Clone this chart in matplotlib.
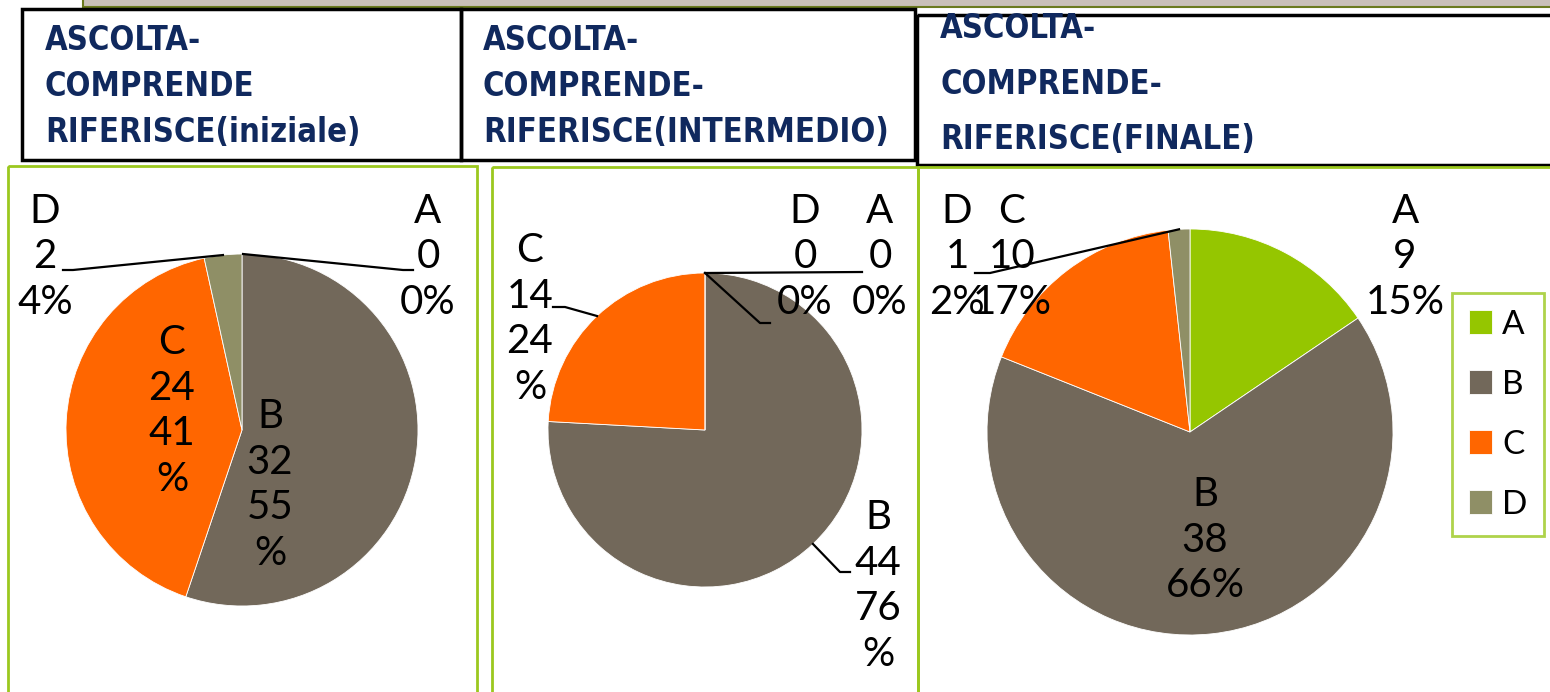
import numpy as np
import matplotlib.pyplot as plt
from matplotlib.patches import Rectangle

# data
categories = ["A", "B", "C", "D"]
titles = [
    "ASCOLTA-\nCOMPRENDE\nRIFERISCE(iniziale)",
    "ASCOLTA-\nCOMPRENDE-\nRIFERISCE(INTERMEDIO)",
    "ASCOLTA-\nCOMPRENDE-\nRIFERISCE(FINALE)",
]
counts_ini = [0, 32, 24, 2]
counts_int = [0, 44, 14, 0]
counts_fin = [9, 38, 10, 1]
pct_ini = ["0%", "55%", "41%", "4%"]
pct_int = ["0%", "76%", "24%", "0%"]
pct_fin = ["15%", "66%", "17%", "2%"]

colors = ["#95C600", "#72685A", "#FF6600", "#8F8F66"]
green = "#9BC81E"
navy = "#10295E"

W, H = 1550, 692
fig = plt.figure(figsize=(W / 100, H / 100), dpi=100)
ax = fig.add_axes([0, 0, 1, 1])

# top strip of the slide
ax.add_patch(Rectangle((83, -5), 1480, 12, facecolor="#C9C0B8", edgecolor="#6B7A1E", lw=1.5))

# title boxes
ax.add_patch(Rectangle((22, 9), 439, 151, fill=False, edgecolor="black", lw=2.5))
ax.add_patch(Rectangle((461, 9), 454, 151, fill=False, edgecolor="black", lw=2.5))
ax.add_patch(Rectangle((917, 15), 650, 150, fill=False, edgecolor="black", lw=2.5))
tfont = dict(color=navy, fontweight="bold", family="DejaVu Sans", fontstretch="condensed",
             ha="left", va="center")
ax.text(45, 86, titles[0], fontsize=23.5, linespacing=1.5, **tfont)
ax.text(483, 86, titles[1], fontsize=23.5, linespacing=1.5, **tfont)
ax.text(940, 84, titles[2], fontsize=23.5, linespacing=1.85, **tfont)

# green chart frames
ax.add_patch(Rectangle((8, 166), 469, 540, fill=False, edgecolor=green, lw=2))
ax.add_patch(Rectangle((492, 167), 426, 540, fill=False, edgecolor=green, lw=2))
ax.add_patch(Rectangle((918, 167), 650, 540, fill=False, edgecolor=green, lw=2))

# pies: centre, radius, label block centres, leader elbows
pies = [
    dict(counts=counts_ini, pct=pct_ini, c=(242, 430), r=176,
         pos={"A": (428, 257), "B": (270, 485), "C": (172, 411), "D": (45, 257)},
         wrap={"B", "C"},
         lead={"A": [(243, 254), (403, 270), (413, 270)], "D": [None, (73, 270), (63, 270)]}),
    dict(counts=counts_int, pct=pct_int, c=(705, 430), r=157,
         pos={"A": (880, 257), "B": (878, 586), "C": (530, 319), "D": (805, 257)},
         wrap={"B", "C"},
         lead={"A": [(705, 273), (862, 272)], "D": [(705, 273), (760, 323), (770, 323)],
               "B": [None, (840, 572), (850, 572)], "C": [None, (565, 307), (553, 307)]}),
    dict(counts=counts_fin, pct=pct_fin, c=(1190, 432), r=203,
         pos={"A": (1405, 257), "B": (1205, 540), "C": (1012, 257), "D": (957, 257)},
         wrap=set(),
         lead={"D": [None, (990, 273), (975, 273)]}),
]

lfont = dict(fontsize=29, family="Lato", ha="center", va="center", linespacing=1.28, color="black")
for p in pies:
    wedges, _ = ax.pie(p["counts"], colors=colors, center=p["c"], radius=p["r"],
                       startangle=-90, counterclock=True, frame=True,
                       wedgeprops=dict(linewidth=0.6, edgecolor="white"))
    for i, cat in enumerate(categories):
        pct = p["pct"][i]
        if cat in p["wrap"]:
            pct = pct[:-1] + "\n%"
        x, y = p["pos"][cat]
        ax.text(x, y, f"{cat}\n{p['counts'][i]}\n{pct}", **lfont)
        if cat in p["lead"]:
            pts = list(p["lead"][cat])
            if pts[0] is None:
                w = wedges[i]
                mid = np.deg2rad((w.theta1 + w.theta2) / 2)
                pts[0] = (p["c"][0] + p["r"] * np.cos(mid), p["c"][1] + p["r"] * np.sin(mid))
            ax.plot([q[0] for q in pts], [q[1] for q in pts], color="black", lw=1.6)
    last = wedges

leg = ax.legend(last, categories, loc="upper left", bbox_to_anchor=(1452, 293),
                bbox_transform=ax.transData, frameon=True, fancybox=False,
                handlelength=0.7, handleheight=0.7, handletextpad=0.3,
                labelspacing=0.9, borderpad=0.5, borderaxespad=0,
                prop=dict(family="Lato", size=24))
leg.get_frame().set_edgecolor(green)
leg.get_frame().set_linewidth(2)

ax.set_xlim(0, W)
ax.set_ylim(H, 0)
ax.set_aspect("equal")
ax.axis("off")
fig.savefig("out.png", dpi=100)
